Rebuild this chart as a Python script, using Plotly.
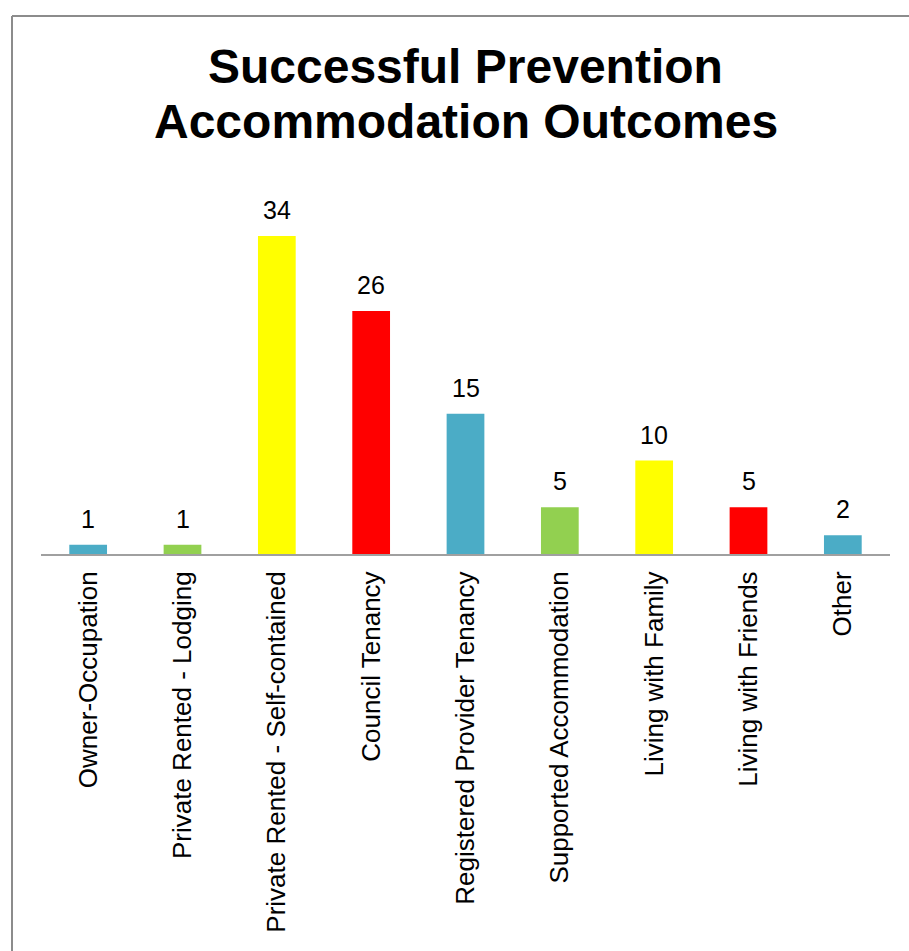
import plotly.graph_objects as go

categories = ["Owner-Occupation", "Private Rented - Lodging", "Private Rented - Self-contained",
              "Council Tenancy", "Registered Provider Tenancy", "Supported Accommodation",
              "Living with Family", "Living with Friends", "Other"]
values = [1, 1, 34, 26, 15, 5, 10, 5, 2]
colors = ["#4BACC6", "#92D050", "#FFFF00", "#FF0000", "#4BACC6", "#92D050", "#FFFF00", "#FF0000", "#4BACC6"]
title_lines = ["Successful Prevention", "Accommodation Outcomes"]

FONT = "Liberation Sans, Arial, sans-serif"

fig = go.Figure(go.Bar(
    x=categories, y=values, marker=dict(color=colors, line=dict(width=0)),
    cliponaxis=False,
))

OFF = 0
W, H = 909, 951
L = 41 - OFF
T = 180 - OFF
pw, ph = 849, 374
R = W - L - pw
B = H - T - ph

def px(x):
    return (x - OFF - L) / pw

def py(y):
    return (T + ph - (y - OFF)) / ph

annotations = [
    dict(text="<b>%s</b>" % title_lines[0], x=0.5, y=py(67), xref="paper", yref="paper",
         showarrow=False, xanchor="center", yanchor="middle",
         font=dict(family=FONT, size=48, color="black")),
    dict(text="<b>%s</b>" % title_lines[1], x=0.5, y=py(121), xref="paper", yref="paper",
         showarrow=False, xanchor="center", yanchor="middle",
         font=dict(family=FONT, size=48, color="black")),
]
for c, v in zip(categories, values):
    annotations.append(dict(text=str(v), x=c, y=v, xref="x", yref="y", showarrow=False,
                            xanchor="center", yanchor="bottom", yshift=10,
                            font=dict(family=FONT, size=25, color="black")))

border = dict(color="#8C8C8C", width=2)
fig.update_layout(
    width=W, height=H, margin=dict(l=L, r=R, t=T, b=B, autoexpand=False),
    paper_bgcolor="white", plot_bgcolor="white", showlegend=False,
    bargap=0.6,
    font=dict(family=FONT, color="black"),
    xaxis=dict(showline=True, linecolor="#A0A0A0", linewidth=2, tickangle=-90,
               tickfont=dict(family=FONT, size=26, color="black"), ticks="outside",
               ticklen=5, tickcolor="rgba(0,0,0,0)", showgrid=False, automargin=False),
    yaxis=dict(range=[0, 40], visible=False, showgrid=False, automargin=False),
    annotations=annotations,
    shapes=[
        dict(type="line", xref="paper", yref="paper", x0=px(12), x1=px(960),
             y0=py(16), y1=py(16), line=border, layer="below"),
        dict(type="line", xref="paper", yref="paper", x0=px(12), x1=px(12),
             y0=py(16), y1=py(1000), line=border, layer="below"),
    ],
)

fig.write_html("out.html", config={"displayModeBar": False},
               post_script="document.body.style.margin='0';document.body.style.overflow='hidden';")
